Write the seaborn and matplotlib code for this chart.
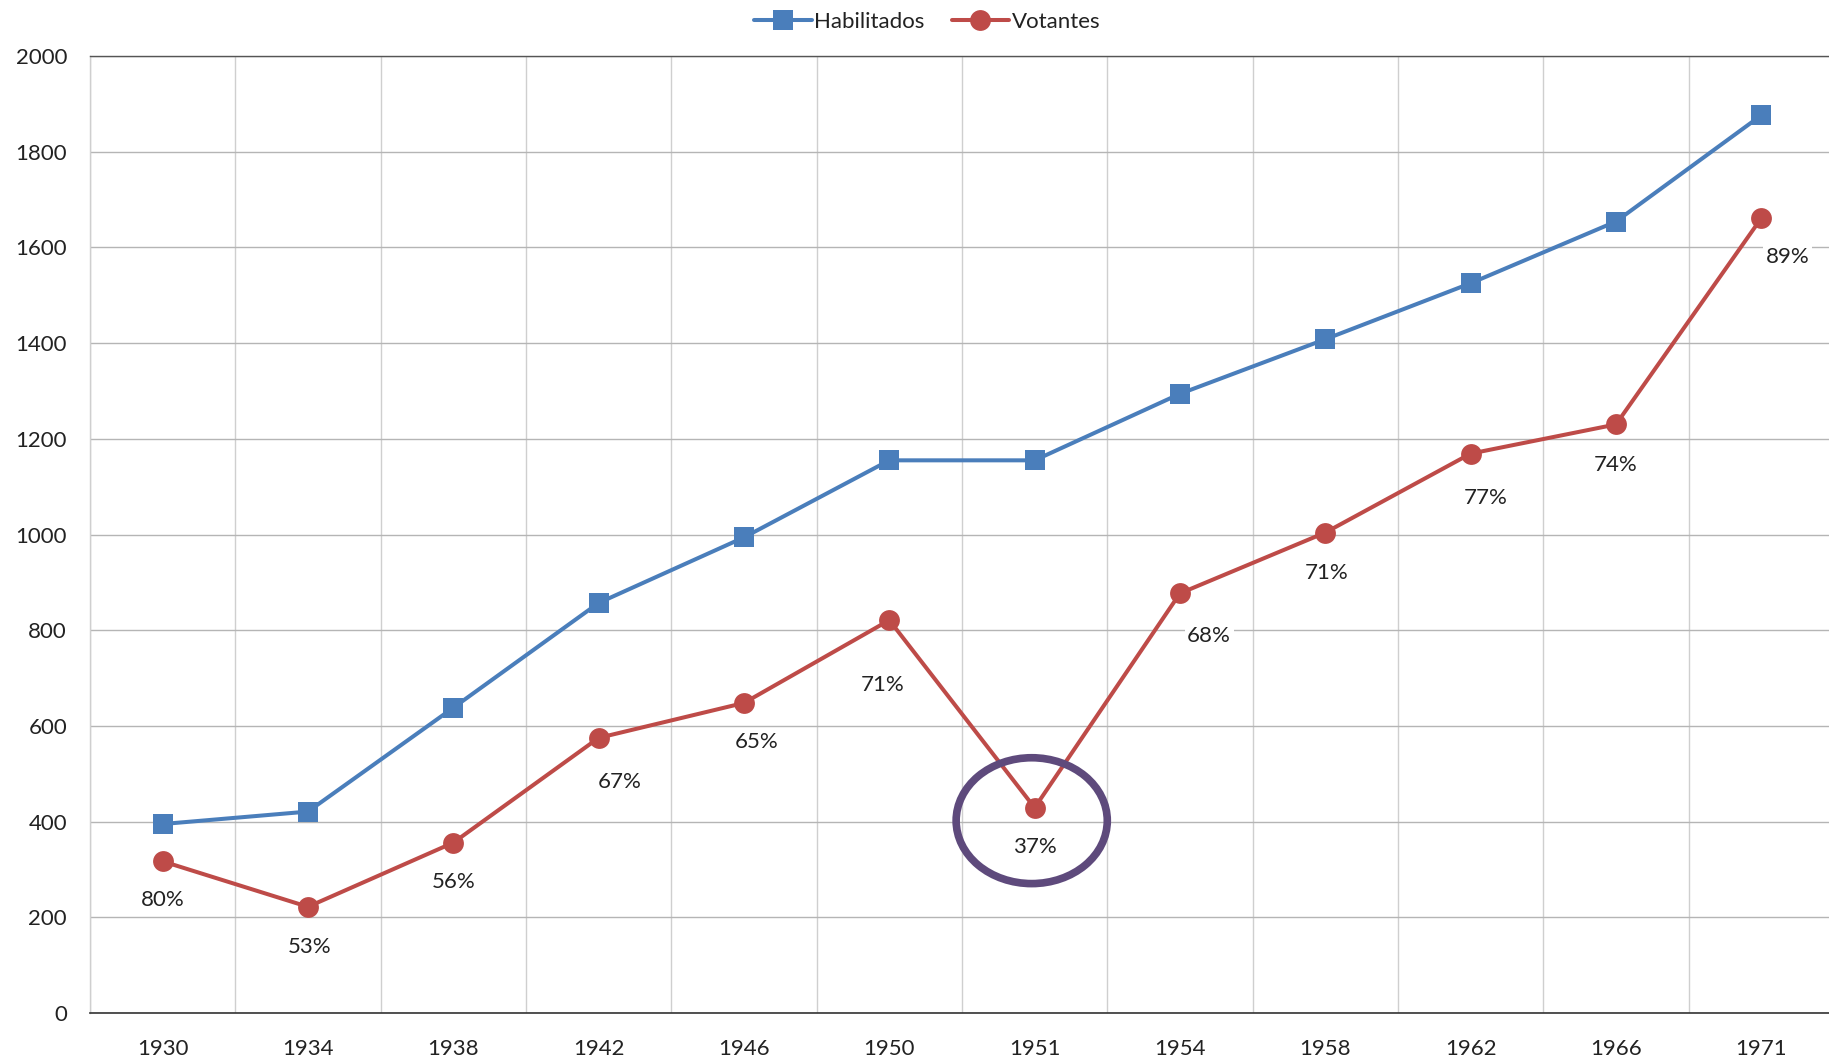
import numpy as np
import pandas as pd
import seaborn as sns
import matplotlib.pyplot as plt
from matplotlib.patches import Ellipse

# data
years = ['1930', '1934', '1938', '1942', '1946', '1950', '1951', '1954', '1958', '1962', '1966', '1971']
habilitados = [395, 421, 638, 857, 994, 1155, 1155, 1294, 1408, 1525, 1654, 1876]
votantes = [317, 222, 356, 575, 648, 821, 429, 877, 1004, 1169, 1230, 1661]
porcentajes = ['80%', '53%', '56%', '67%', '65%', '71%', '37%', '68%', '71%', '77%', '74%', '89%']

# label offsets in points (placement of the % labels)
label_offsets = [(0, -28), (1, -29), (0, -28), (15, -32), (9, -28), (-5, -47),
                 (0, -28), (21, -31), (1, -29), (11, -32), (0, -29), (19, -28)]

sns.set_style('white')
plt.rcParams['font.family'] = ['Lato', 'DejaVu Sans']

df = pd.DataFrame({'Año': years, 'Habilitados': habilitados, 'Votantes': votantes})

fig = plt.figure(figsize=(18.29, 10.60), dpi=100)
ax = fig.add_axes([0.0492, 0.0443, 0.9535, 0.9029])

blue = '#4A7EBB'
red = '#BE4B48'
fs = 16

sns.lineplot(data=df, x='Año', y='Habilitados', ax=ax, color=blue, lw=2.9,
             marker='s', markersize=14, markeredgewidth=0, label='Habilitados', sort=False)
sns.lineplot(data=df, x='Año', y='Votantes', ax=ax, color=red, lw=2.9,
             marker='o', markersize=15, markeredgewidth=0, label='Votantes', sort=False)

for i, (v, txt) in enumerate(zip(votantes, porcentajes)):
    ax.annotate(txt, (i, v), xytext=label_offsets[i], textcoords='offset points',
                ha='center', va='center', fontsize=fs, color='#222222',
                bbox=dict(boxstyle='square,pad=0.12', fc='white', ec='none'))

# circle highlighting 1951
ax.add_patch(Ellipse((5.98, 402), 1.04, 263, fill=False, ec='#5E4A7C', lw=5.5, zorder=5))

ax.set_xlim(-0.5, 11.5)
ax.set_ylim(0, 2000)
ax.set_yticks(np.arange(0, 2001, 200))
ax.set_xticks(np.arange(-0.5, 12, 1), minor=True)
ax.grid(axis='y', which='major', color='#B5B5B5', lw=1.0)
ax.grid(axis='x', which='minor', color='#CFCFCF', lw=1.0)
ax.set_axisbelow(True)

ax.set_xlabel('')
ax.set_ylabel('')
ax.tick_params(axis='y', length=6.5, width=1, color='#B5B5B5', pad=10, labelsize=fs, labelcolor='#222222')
ax.tick_params(axis='x', which='both', length=0, pad=18.5, labelsize=fs, labelcolor='#222222')

ax.spines['right'].set_visible(False)
ax.spines['left'].set_color('#CFCFCF')
ax.spines['bottom'].set_color('#333333')
ax.spines['top'].set_color('#555555')
ax.spines['left'].set_linewidth(1.0)
ax.spines['bottom'].set_linewidth(1.2)
ax.spines['top'].set_linewidth(1.0)

ax.legend(loc='center', bbox_to_anchor=(0.507, 0.979), bbox_transform=fig.transFigure,
          ncol=2, frameon=False, fontsize=fs, handlelength=2.6, handletextpad=0.1,
          columnspacing=1.2, labelcolor='#222222')

fig.savefig('out.png', dpi=100)
